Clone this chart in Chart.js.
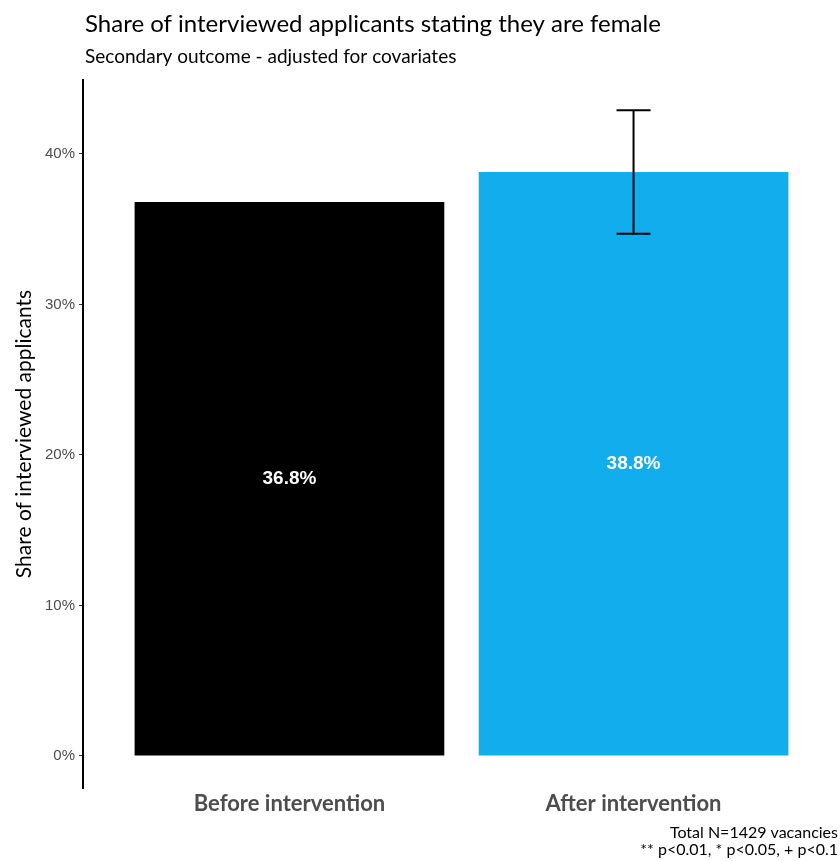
<!DOCTYPE html>
<html>
<head>
<meta charset="utf-8">
<script src="https://cdn.jsdelivr.net/npm/chart.js@4.4.1/dist/chart.umd.min.js"></script>
<style>
  body { margin: 0; background: #fff; }
  #wrap { width: 840px; height: 861px; }
</style>
</head>
<body>
<div id="wrap"><canvas id="mycanvas" width="840" height="861"></canvas></div>
<script>
// values
var categories = ['Before intervention', 'After intervention'];
var shares = [36.8, 38.8];
var errLow = [null, 34.7];
var errHigh = [null, 42.9];
var yTicks = [0, 10, 20, 30, 40];
var barColors = ['#000000', '#12ADEC'];

var titleText = 'Share of interviewed applicants stating they are female';
var subtitleText = 'Secondary outcome - adjusted for covariates';
var captionLines = ['Total N=1429 vacancies', '** p<0.01, * p<0.05, + p<0.1'];

var points = [];
for (var i in categories) {
	points.push({ x: Number(i) + 1, y: shares[i] });
}

var extras = {
	id: 'extras',
	afterDatasetsDraw: function(chart) {
		var ctx = chart.ctx;
		var xs = chart.scales.x, ys = chart.scales.y;
		ctx.save();
		// value labels in the middle of each bar
		ctx.fillStyle = '#ffffff';
		ctx.font = 'bold 19px "Liberation Sans", Arial, sans-serif';
		ctx.textAlign = 'center';
		ctx.textBaseline = 'middle';
		for (var i = 0; i < shares.length; i++) {
			ctx.fillText(shares[i].toFixed(1) + '%', xs.getPixelForValue(i + 1), ys.getPixelForValue(shares[i] / 2));
		}
		// error bars
		ctx.strokeStyle = '#000000';
		ctx.lineWidth = 2;
		for (var j = 0; j < shares.length; j++) {
			if (errLow[j] == null) continue;
			var cx = xs.getPixelForValue(j + 1);
			var lo = ys.getPixelForValue(errLow[j]);
			var hi = ys.getPixelForValue(errHigh[j]);
			ctx.beginPath();
			ctx.moveTo(cx, lo); ctx.lineTo(cx, hi);
			ctx.moveTo(cx - 17, lo); ctx.lineTo(cx + 17, lo);
			ctx.moveTo(cx - 17, hi); ctx.lineTo(cx + 17, hi);
			ctx.stroke();
		}
		ctx.restore();
	},
	afterDraw: function(chart) {
		var ctx = chart.ctx;
		var left = chart.chartArea.left + 2;
		ctx.save();
		ctx.fillStyle = '#000000';
		ctx.textAlign = 'left';
		ctx.textBaseline = 'alphabetic';
		ctx.font = '24px Lato, "Noto Sans", sans-serif';
		ctx.fillText(titleText, left, 32);
		ctx.font = '19px Lato, "Noto Sans", sans-serif';
		ctx.fillText(subtitleText, left, 63);
		ctx.textAlign = 'right';
		ctx.font = '16px Lato, "Noto Sans", sans-serif';
		ctx.fillText(captionLines[0], 838, 838);
		ctx.fillText(captionLines[1], 838, 855);
		ctx.restore();
	}
};

var ctx = document.getElementById('mycanvas');

var barGraph = new Chart(ctx, {
	type: 'bar',
	data: {
		datasets: [{
			data: points,
			backgroundColor: barColors,
			borderWidth: 0,
			categoryPercentage: 1,
			barPercentage: 0.9
		}]
	},
	options: {
		responsive: false,
		animation: false,
		layout: { padding: { top: 80, right: 0, bottom: 0, left: 0 } },
		plugins: {
			legend: { display: false },
			tooltip: { enabled: false }
		},
		scales: {
			x: {
				type: 'linear',
				offset: false,
				min: 0.4,
				max: 2.6,
				afterBuildTicks: function(scale) {
					scale.ticks = categories.map(function(c, i) { return { value: i + 1 }; });
				},
				afterFit: function(scale) { scale.height = 73; },
				ticks: {
					autoSkip: false,
					maxRotation: 0,
					padding: 3,
					color: '#4d4d4d',
					font: { family: 'Lato, "Noto Sans", sans-serif', size: 22, weight: 'bold' },
					callback: function(v) { return categories[v - 1]; }
				},
				grid: { display: false, drawTicks: false, offset: false },
				border: { display: false }
			},
			y: {
				min: -2.13,
				max: 44.91,
				afterBuildTicks: function(scale) {
					scale.ticks = yTicks.map(function(v) { return { value: v }; });
				},
				afterFit: function(scale) { scale.width = 83; },
				ticks: {
					padding: 4,
					color: '#4d4d4d',
					font: { family: '"Liberation Sans", Arial, sans-serif', size: 15 },
					callback: function(v) { return v + '%'; }
				},
				grid: { drawOnChartArea: false, drawTicks: true, tickLength: 4, color: '#333333', lineWidth: 1 },
				border: { display: true, color: '#000000', width: 2 },
				title: {
					display: true,
					text: 'Share of interviewed applicants',
					color: '#000000',
					padding: { top: 12, bottom: 4 },
					font: { family: 'Lato, "Noto Sans", sans-serif', size: 21 }
				}
			}
		}
	},
	plugins: [extras]
});
</script>
</body>
</html>
